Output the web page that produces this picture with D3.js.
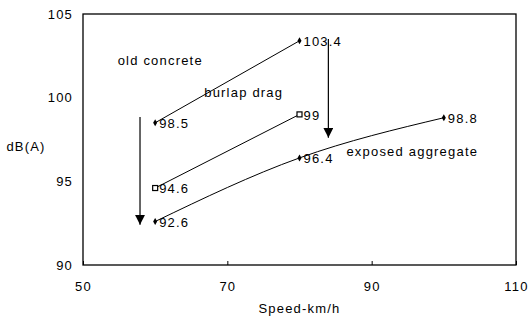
<!DOCTYPE html>
<html>
<head>
<meta charset="utf-8">
<script src="https://cdn.jsdelivr.net/npm/d3@7"></script>
<style>
  body { margin: 0; background: #fff; }
  text { font-family: "Liberation Sans", Arial, sans-serif; font-size: 13px; fill: #000; letter-spacing: 1.2px; }
</style>
</head>
<body>
<div id="chart"></div>
<script>
// speeds (km/h) and noise levels dB(A)
var oldConcrete = [[60, 98.5], [80, 103.4]];
var burlapDrag = [[60, 94.6], [80, 99]];
var exposedAggregate = [[60, 92.6], [80, 96.4], [100, 98.8]];

var xTicks = [50, 70, 90, 110];
var yTicks = [90, 95, 100, 105];

// annotation text, anchored in data units
var seriesLabels = [
  { text: "old concrete", x: 54.8, y: 102.2 },
  { text: "burlap drag", x: 66.8, y: 100.3 },
  { text: "exposed aggregate", x: 86.5, y: 96.8 }
];
var arrows = [
  { x: 57.9, y1: 98.85, y2: 92.4 },
  { x: 84, y1: 103.5, y2: 97.6 }
];

var svgWidth = 529;
var svgHeight = 318;
var margin = { top: 14, right: 13, bottom: 53, left: 83 };
var width = svgWidth - margin.left - margin.right;
var height = svgHeight - margin.top - margin.bottom;

var svg = d3.select("#chart").append("svg")
  .attr("width", svgWidth)
  .attr("height", svgHeight);

var defs = svg.append("defs");
defs.append("marker")
  .attr("id", "head")
  .attr("viewBox", "0 0 10 10")
  .attr("refX", 10).attr("refY", 5)
  .attr("markerWidth", 10).attr("markerHeight", 10)
  .attr("markerUnits", "userSpaceOnUse")
  .attr("orient", "auto")
  .append("path")
  .attr("d", "M0,0L10,5L0,10Z")
  .attr("fill", "#000");

var chartGroup = svg.append("g")
  .attr("transform", `translate(${margin.left}, ${margin.top})`);

var x = d3.scaleLinear().domain([50, 110]).range([0, width]);
var y = d3.scaleLinear().domain([90, 105]).range([height, 0]);

// frame
chartGroup.append("rect")
  .attr("width", width).attr("height", height)
  .attr("fill", "none").attr("stroke", "#000").attr("stroke-width", 1.3);

// axes
var xAxis = chartGroup.append("g")
  .attr("transform", `translate(0, ${height})`)
  .call(d3.axisBottom(x).tickValues(xTicks).tickSize(-4).tickPadding(17).tickFormat(d3.format("d")));
var yAxis = chartGroup.append("g")
  .call(d3.axisLeft(y).tickValues(yTicks).tickSize(0).tickPadding(10).tickFormat(d3.format("d")));
chartGroup.selectAll(".domain").remove();
chartGroup.selectAll(".tick line").attr("stroke", "#000");
chartGroup.selectAll(".tick text").style("font-size", "13px")
  .style("font-family", '"Liberation Sans", Arial, sans-serif');

// axis titles
chartGroup.append("text")
  .attr("x", x(80)).attr("y", height + 48)
  .attr("text-anchor", "middle")
  .text("Speed-km/h");
chartGroup.append("text")
  .attr("x", -57).attr("y", y(97.1))
  .attr("text-anchor", "middle")
  .attr("dy", "0.35em")
  .text("dB(A)");

var straight = d3.line().x(d => x(d[0])).y(d => y(d[1]));
var smooth = d3.line().x(d => x(d[0])).y(d => y(d[1])).curve(d3.curveMonotoneX);

var series = [
  { data: oldConcrete, line: straight, shape: "tri" },
  { data: burlapDrag, line: straight, shape: "square" },
  { data: exposedAggregate, line: smooth, shape: "diamond" }
];

series.forEach(function(s) {
  chartGroup.append("path")
    .attr("d", s.line(s.data))
    .attr("fill", "none")
    .attr("stroke", "#000")
    .attr("stroke-width", 1);

  var pts = chartGroup.selectAll(null)
    .data(s.data)
    .enter()
    .append("g")
    .attr("transform", d => `translate(${x(d[0])}, ${y(d[1])})`);

  if (s.shape === "square") {
    pts.append("rect")
      .attr("x", -2.5).attr("y", -2.5).attr("width", 5).attr("height", 5)
      .attr("fill", "#fff").attr("stroke", "#000").attr("stroke-width", 1.2);
  } else {
    pts.append("path")
      .attr("d", d3.symbol().type(d3.symbolDiamond).size(14))
      .attr("fill", "#000");
  }

  pts.append("text")
    .attr("x", 4).attr("dy", "0.4em")
    .text(d => d[1]);
});

// series names
chartGroup.selectAll(null)
  .data(seriesLabels)
  .enter()
  .append("text")
  .attr("x", d => x(d.x))
  .attr("y", d => y(d.y))
  .attr("dy", "0.35em")
  .text(d => d.text);

// arrows
chartGroup.selectAll(null)
  .data(arrows)
  .enter()
  .append("line")
  .attr("x1", d => x(d.x)).attr("x2", d => x(d.x))
  .attr("y1", d => y(d.y1)).attr("y2", d => y(d.y2))
  .attr("stroke", "#000").attr("stroke-width", 1.2)
  .attr("marker-end", "url(#head)");
</script>
</body>
</html>
